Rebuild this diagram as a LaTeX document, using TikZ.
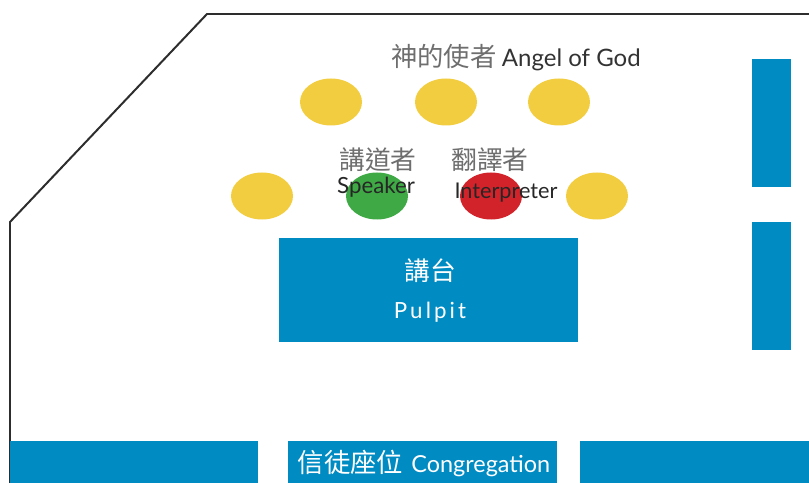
\documentclass[tikz,border=0pt]{standalone}
\usepackage{fontspec}
\setmainfont{Lato}
\newfontfamily\cjk{Noto Sans CJK TC}
\usetikzlibrary{shapes.geometric}
\definecolor{churchblue}{RGB}{0,139,195}
\definecolor{angelyellow}{RGB}{242,205,63}
\definecolor{speakergreen}{RGB}{63,170,69}
\definecolor{interpred}{RGB}{210,35,42}
\definecolor{wallgray}{RGB}{45,45,45}
\definecolor{labelgray}{RGB}{110,110,110}

\begin{document}
\begin{tikzpicture}[x=0.03cm,y=-0.03cm,
    seat/.style={ellipse,minimum width=1.86cm,minimum height=1.41cm,inner sep=0pt},
    cjklabel/.style={font=\cjk\fontsize{22}{25}\selectfont,text=labelgray,inner sep=0pt},
    namelabel/.style={font=\fontsize{18.5}{21}\selectfont,text=black!85,inner sep=0pt}]
    \useasboundingbox (0,0) rectangle (809,483);
    % wall
    \coordinate (w1) at (10,483);
    \coordinate (w2) at (10,222);
    \coordinate (w3) at (207,14);
    \coordinate (w4) at (809,14);
    \draw[wallgray,line width=1.7pt] (w1) -- (w2) -- (w3) -- (w4);
    % pews and pulpit
    \fill[churchblue] (752,59) rectangle (791,187);
    \fill[churchblue] (752,222) rectangle (791,350);
    \fill[churchblue] (10,441) rectangle (258,483);
    \fill[churchblue] (288,441) rectangle (557,483);
    \fill[churchblue] (580,441) rectangle (809,483);
    \fill[churchblue] (279,238) rectangle (578,342);
    % seats
    \foreach \n/\x in {a1/331,a2/446,a3/559}
        \node[seat,fill=angelyellow] (\n) at (\x,102) {};
    \node[seat,fill=angelyellow] (a4) at (262,196) {};
    \node[seat,fill=angelyellow] (a5) at (597,196) {};
    \node[seat,fill=speakergreen] (speaker) at (377,196) {};
    \node[seat,fill=interpred] (interp) at (491,196) {};
    % labels
    \node[inner sep=0pt] (angel) at (516,58)
        {{\cjk\fontsize{22.5}{25}\selectfont\color{labelgray}神的使者}\hspace{0.45em}{\fontsize{20.5}{23}\selectfont\color{black!80}Angel of God}};
    \node[cjklabel] (speakercjk) at (378,160) {講道者};
    \node[cjklabel] (interpcjk) at (490,160) {翻譯者};
    \node[namelabel,font=\fontsize{19}{21}\selectfont] (speakertxt) at (376,187) {Speaker};
    \node[namelabel] (interptxt) at (506,193) {Interpreter};
    \node[cjklabel,text=white] (pulpitcjk) at (430,271) {講台};
    \node[inner sep=0pt,text=white,font=\fontsize{19}{21}\selectfont\addfontfeatures{LetterSpace=14}] (pulpittxt) at (430,312) {Pulpit};
    \node[inner sep=0pt,text=white] (congtxt) at (424,463)
        {{\cjk\fontsize{22.5}{25}\selectfont 信徒座位}\hspace{0.7em}{\fontsize{20}{23}\selectfont Congregation}};
\end{tikzpicture}
\end{document}
